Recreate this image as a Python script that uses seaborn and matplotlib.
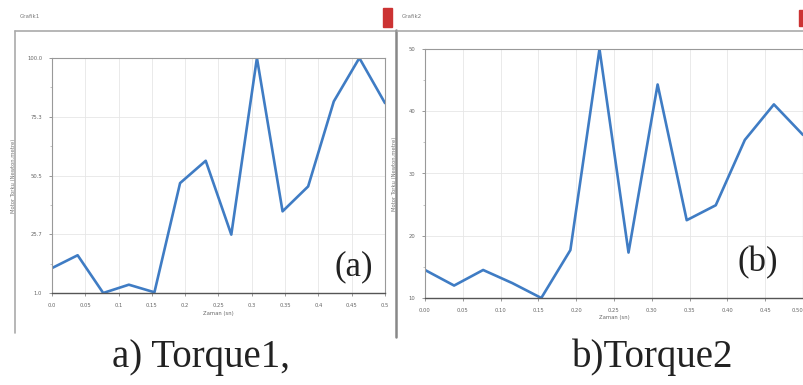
import numpy as np
import pandas as pd
import matplotlib
matplotlib.use("Agg")
import matplotlib.pyplot as plt
from matplotlib.lines import Line2D
from matplotlib.patches import Rectangle
import seaborn as sns

# ---- data ----
time = [0.0, 0.0385, 0.0769, 0.1154, 0.1538, 0.1923, 0.2308,
        0.2692, 0.3077, 0.3462, 0.3846, 0.4231, 0.4615, 0.5]
torque1 = [11.5, 16.9, 1.0, 4.5, 1.3, 47.3, 56.7,
           25.6, 100.0, 35.4, 45.9, 81.7, 100.0, 81.0]
torque2 = [14.5, 12.0, 14.5, 12.4, 10.0, 17.7, 50.0,
           17.3, 44.3, 22.5, 24.9, 35.4, 41.1, 36.2]

xticks1 = [0.0, 0.05, 0.1, 0.15, 0.2, 0.25, 0.3, 0.35, 0.4, 0.45, 0.5]
xlabels1 = ["0.0", "0.05", "0.1", "0.15", "0.2", "0.25", "0.3", "0.35", "0.4", "0.45", "0.5"]
xlabels2 = ["0.00", "0.05", "0.10", "0.15", "0.20", "0.25", "0.30", "0.35", "0.40", "0.45", "0.50"]
yticks1 = [1.0, 25.75, 50.5, 75.25, 100.0]
ylabels1 = ["1.0", "25.7", "50.5", "75.3", "100.0"]
yticks2 = [10, 20, 30, 40, 50]
ylabels2 = ["10", "20", "30", "40", "50"]

window_titles = ["Grafik1", "Grafik2"]
captions = ["a) Torque1,", "b)Torque2"]
panel_tags = ["(a)", "(b)"]
xlabel = "Zaman (sn)"
ylabel = "Motor Torku (Newton.metre)"

df1 = pd.DataFrame({"t": time, "v": torque1})
df2 = pd.DataFrame({"t": time, "v": torque2})

sns.set_style("white")
plt.rcParams["font.family"] = ["DejaVu Sans"]

W, H = 804, 385
fig = plt.figure(figsize=(W / 100, H / 100), dpi=100)
fig.patch.set_facecolor("white")

def fx(px):
    return px / W

def fy(py):
    return 1 - py / H

ax1 = fig.add_axes([fx(52), fy(293), fx(385 - 52), (293 - 58) / H])
ax2 = fig.add_axes([fx(425), fy(298), fx(803 - 425), (298 - 49) / H])

line_color = "#3f7cc4"
specs = [
    (ax1, df1, yticks1, ylabels1, xlabels1, (1.0, 100.0)),
    (ax2, df2, yticks2, ylabels2, xlabels2, (10, 50)),
]
for ax, df, yt, yl, xl, ylim in specs:
    sns.lineplot(data=df, x="t", y="v", ax=ax, color=line_color, linewidth=1.9)
    ax.set_xlim(0, 0.5)
    ax.set_ylim(*ylim)
    ax.set_xticks(xticks1)
    ax.set_xticklabels(xl)
    ax.set_yticks(yt)
    ax.set_yticklabels(yl)
    minor = [(yt[i] + yt[i + 1]) / 2 for i in range(len(yt) - 1)]
    ax.set_yticks(minor, minor=True)
    ax.tick_params(axis="both", which="major", labelsize=3.8, labelcolor="#666666",
                   length=2, width=0.6, color="#888888", pad=5, left=True, bottom=True)
    ax.tick_params(axis="y", which="minor", length=1.5, width=0.5, color="#aaaaaa", left=True)
    ax.grid(True, color="#e6e6e6", linewidth=0.6)
    ax.set_xlabel(xlabel, fontsize=3.8, color="#666666", labelpad=2)
    ax.set_ylabel(ylabel, fontsize=3.8, color="#777777", labelpad=8)
    for side in ["top", "right", "left"]:
        ax.spines[side].set_color("#999999")
        ax.spines[side].set_linewidth(0.8)
    ax.spines["bottom"].set_color("#555555")
    ax.spines["bottom"].set_linewidth(1.0)

# keep the last tick label of the right panel inside the picture
ax2.get_xticklabels()[-1].set_horizontalalignment("right")

ax1.text(0.965, 0.11, panel_tags[0], transform=ax1.transAxes, ha="right", va="center",
         fontsize=25, family="Liberation Serif", color="#222222")
ax2.text(0.935, 0.14, panel_tags[1], transform=ax2.transAxes, ha="right", va="center",
         fontsize=25, family="Liberation Serif", color="#222222")

# window frames
frame_color = "#aaaaaa"
fig.add_artist(Line2D([fx(15), fx(395)], [fy(31), fy(31)], color=frame_color, lw=1.2))
fig.add_artist(Line2D([fx(15), fx(15)], [fy(31), fy(333)], color=frame_color, lw=1.2))
fig.add_artist(Line2D([fx(396), fx(396)], [fy(30), fy(337)], color="#888888", lw=1.8))
fig.add_artist(Line2D([fx(397), fx(804)], [fy(31), fy(31)], color=frame_color, lw=1.2))

# window title text and close buttons
fig.text(fx(20), fy(16), window_titles[0], fontsize=4, color="#777777", va="center")
fig.text(fx(402), fy(16), window_titles[1], fontsize=4, color="#777777", va="center")
fig.add_artist(Rectangle((fx(383), fy(27)), fx(9), 19 / H, color="#cc3333"))
fig.add_artist(Rectangle((fx(799), fy(26)), fx(6), 16 / H, color="#cc3333"))

# captions
fig.text(fx(201), fy(357), captions[0], fontsize=28, family="Liberation Serif",
         ha="center", va="center", color="#222222")
fig.text(fx(653), fy(357), captions[1], fontsize=28, family="Liberation Serif",
         ha="center", va="center", color="#222222")

fig.savefig("out.png", dpi=100)
